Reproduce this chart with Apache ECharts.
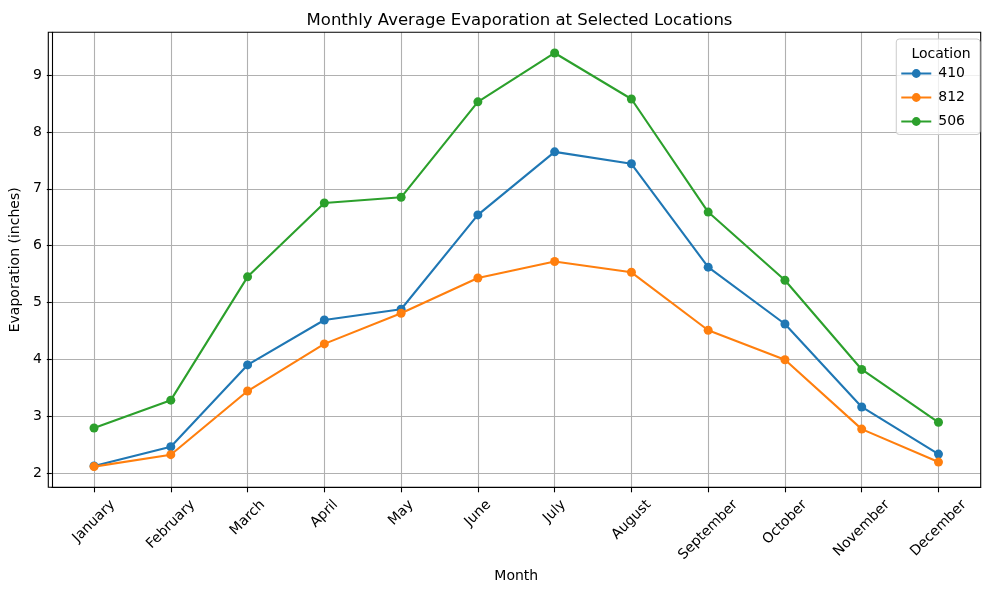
<!DOCTYPE html>
<html>
<head>
<meta charset="utf-8">
<script src="https://cdn.jsdelivr.net/npm/echarts@6/dist/echarts.min.js"></script>
<style>html,body{margin:0;padding:0;background:#fff}#c{width:989px;height:590px}</style>
</head>
<body>
<div id="c"></div>
<script>
const months = ['January','February','March','April','May','June','July','August','September','October','November','December'];
const seriesNames = ['410','812','506'];
const loc410 = [2.12, 2.46, 3.90, 4.69, 4.88, 6.54, 7.65, 7.44, 5.62, 4.62, 3.16, 2.33];
const loc812 = [2.11, 2.32, 3.44, 4.27, 4.81, 5.43, 5.72, 5.53, 4.51, 3.99, 2.77, 2.19];
const loc506 = [2.79, 3.28, 5.45, 6.75, 6.85, 8.53, 9.39, 8.58, 6.59, 5.39, 3.82, 2.89];
const yTicks = [2, 3, 4, 5, 6, 7, 8, 9];

const FONT = 'DejaVu Sans';
const colors = ['#1f77b4', '#ff7f0e', '#2ca02c'];
const values = [loc410, loc812, loc506];

// measure label widths to mimic matplotlib centered rotated labels
const cv = document.createElement('canvas').getContext('2d');
cv.font = '14px "' + FONT + '"';
const rich = {};
months.forEach((m, i) => {
  const L = cv.measureText(m).width;
  const P = 0.5 * (L + 16);
  rich['m' + i] = { padding: [P, P, 0, 0], fontFamily: FONT, fontSize: 14, color: '#000' };
});
const xIdx = months.map((m, i) => i);

const chart = echarts.init(document.getElementById('c'), null, { renderer: 'canvas' });
chart.setOption({
  backgroundColor: '#fff',
  animation: false,
  textStyle: { fontFamily: FONT },
  title: [
    { text: 'Monthly Average Evaporation at Selected Locations', left: 514.5, top: 7, textAlign: 'center',
      textStyle: { fontFamily: FONT, fontSize: 16.5, fontWeight: 'normal', color: '#000' } },
    { text: 'Location', left: 936, top: 42, textAlign: 'center',
      textStyle: { fontFamily: FONT, fontSize: 14, fontWeight: 'normal', color: '#000' }, z: 10 }
  ],
  grid: { left: 48.3, right: 8.3, top: 32.3, bottom: 102.7, containLabel: false },
  legend: {
    orient: 'vertical', right: 9, top: 39,
    padding: [27.5, 15, 6, 4],
    itemWidth: 30, itemHeight: 11, itemGap: 10,
    backgroundColor: 'rgba(255,255,255,0.8)', borderColor: '#cccccc', borderWidth: 1, borderRadius: 3,
    textStyle: { fontFamily: FONT, fontSize: 14, color: '#000', padding: [0, 0, 0, 2] },
    data: seriesNames
  },
  xAxis: {
    type: 'value', min: -0.55, max: 11.55,
    name: 'Month', nameLocation: 'middle', nameGap: 74,
    nameTextStyle: { fontFamily: FONT, fontSize: 14, color: '#000' },
    axisLine: { show: true, onZero: false, lineStyle: { color: '#000', width: 1.1 } },
    axisTick: { show: true, inside: false, length: 5, customValues: xIdx, lineStyle: { color: '#000', width: 1.1 } },
    axisLabel: {
      customValues: xIdx, rotate: 45, margin: 9.7, align: 'center', verticalAlign: 'middle',
      formatter: v => '{m' + v + '|' + months[v] + '}', rich: rich,
      fontFamily: FONT, fontSize: 14, color: '#000'
    },
    splitLine: { show: true, lineStyle: { color: '#b0b0b0', width: 1.1 } }
  },
  yAxis: {
    type: 'value',
    min: v => v.min - (v.max - v.min) * 0.05,
    max: v => v.max + (v.max - v.min) * 0.05,
    name: 'Evaporation (inches)', nameLocation: 'middle', nameGap: 28,
    nameTextStyle: { fontFamily: FONT, fontSize: 14, color: '#000' },
    axisLine: { show: true, onZero: false, lineStyle: { color: '#000', width: 1.1 } },
    axisTick: { show: true, inside: false, length: 5, customValues: yTicks, lineStyle: { color: '#000', width: 1.1 } },
    axisLabel: { customValues: yTicks, margin: 10, fontFamily: FONT, fontSize: 14, color: '#000', formatter: v => String(v) },
    splitLine: { show: true, lineStyle: { color: '#b0b0b0', width: 1.1 } }
  },
  series: seriesNames.map((n, k) => ({
    name: n, type: 'line',
    data: values[k].map((v, i) => [i, v]),
    symbol: 'circle', symbolSize: 9, showSymbol: true,
    itemStyle: { color: colors[k] },
    lineStyle: { color: colors[k], width: 2.1 },
    z: 3 + k
  }))
});
// top/right frame spines
chart.setOption({
  graphic: [{
    type: 'rect', silent: true, z: 1,
    shape: { x: 48.3, y: 32.3, width: 989 - 8.3 - 48.3, height: 590 - 102.7 - 32.3 },
    style: { fill: 'none', stroke: '#000', lineWidth: 1.1 }
  }]
});
</script>
</body>
</html>
